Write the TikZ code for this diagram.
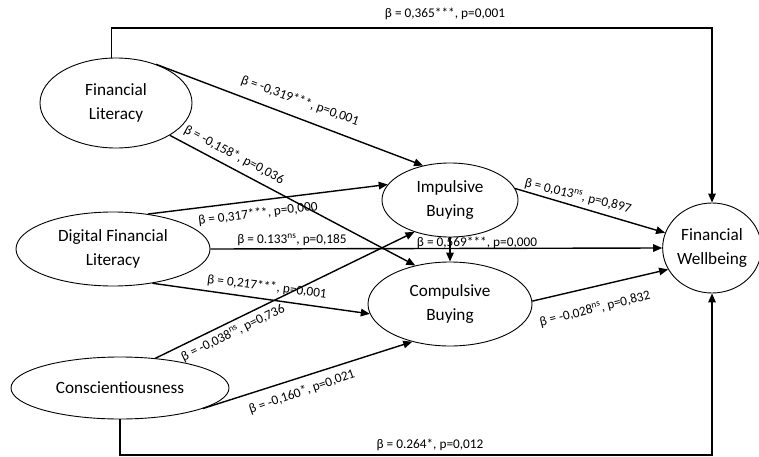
\documentclass[tikz,border=0pt]{standalone}
\usepackage{fontspec}
\setmainfont{Carlito}
\usetikzlibrary{shapes.geometric,arrows.meta}
\begin{document}
\begin{tikzpicture}[x=1pt,y=-1pt,
  var/.style={draw, ellipse, line width=0.9pt, inner sep=0pt, align=center, font=\fontsize{17.2}{24}\selectfont},
  arr/.style={line width=1.4pt, -{Triangle[length=9pt,width=7.5pt]}},
  lbl/.style={font=\fontsize{13.3}{15}\selectfont, inner sep=0pt}]
\useasboundingbox (0,0) rectangle (759,457);
% variables
\node[var, minimum width=152pt, minimum height=90pt] (fl) at (116,103) {Financial\\Literacy};
\node[var, minimum width=194pt, minimum height=74pt] (dfl) at (113,249) {Digital Financial\\Literacy};
\node[var, minimum width=218pt, minimum height=62pt] (c) at (120,388) {Conscientiousness};
\node[var, minimum width=136pt, minimum height=74pt] (ib) at (450,200) {Impulsive\\Buying};
\node[var, minimum width=164pt, minimum height=84pt] (cb) at (450,304) {Compulsive\\Buying};
\node[var, minimum width=93pt, minimum height=90pt] (fw) at (712,248) {Financial\\Wellbeing};
\coordinate (top) at (0,28);
\coordinate (bot) at (0,455);
% connectors
\draw[arr] (fl.96) -- (fl.96 |- top) -| (fw.north);
\draw[arr] (c.south) -- (c.south |- bot) -| (fw.south);
\draw[arr] (fl.44) -- (ib.128);
\draw[arr] (fl.-31) -- (cb.132);
\draw[arr] (dfl.45) -- (ib.166);
\draw[arr] (dfl.east) -- (fw.west);
\draw[arr] (dfl.-41) -- (cb.187);
\draw[arr] (c.40) -- (ib.222);
\draw[arr] (c.-14) -- (cb.225);
\draw[arr] (ib.south) -- (cb.north);
\draw[arr] (ib.10) -- (fw.162);
\draw[arr] (cb.2) -- (fw.206);
% labels
\node[lbl] (l1) at (445,14) {β = 0,365***, p=0,001};
\node[lbl, rotate=-20] (l2) at (300,101) {β = -0,319***, p=0,001};
\node[lbl, rotate=-28] (l3) at (234,155) {β = -0,158*, p=0,036};
\node[lbl, rotate=7] (l4) at (258,214) {β = 0,317***, p=0,000};
\node[lbl] (l5) at (292,240) {β = 0.133\textsuperscript{ns}, p=0,185};
\node[lbl, rotate=-7] (l6) at (267,287) {β = 0,217***, p=0,001};
\node[lbl, rotate=26] (l7) at (233,333) {β = -0,038\textsuperscript{ns}, p=0,736};
\node[lbl, rotate=19] (l8) at (302,392) {β = -0,160*, p=0,021};
\node[lbl, rotate=-14] (l9) at (578,196) {β = 0,013\textsuperscript{ns}, p=0,897};
\node[lbl] (l10) at (477,243) {β = 0,569***, p=0,000};
\node[lbl, rotate=14] (l11) at (595,309) {β = -0,028\textsuperscript{ns}, p=0,832};
\node[lbl] (l12) at (430,445) {β = 0.264*, p=0,012};
\end{tikzpicture}
\end{document}
